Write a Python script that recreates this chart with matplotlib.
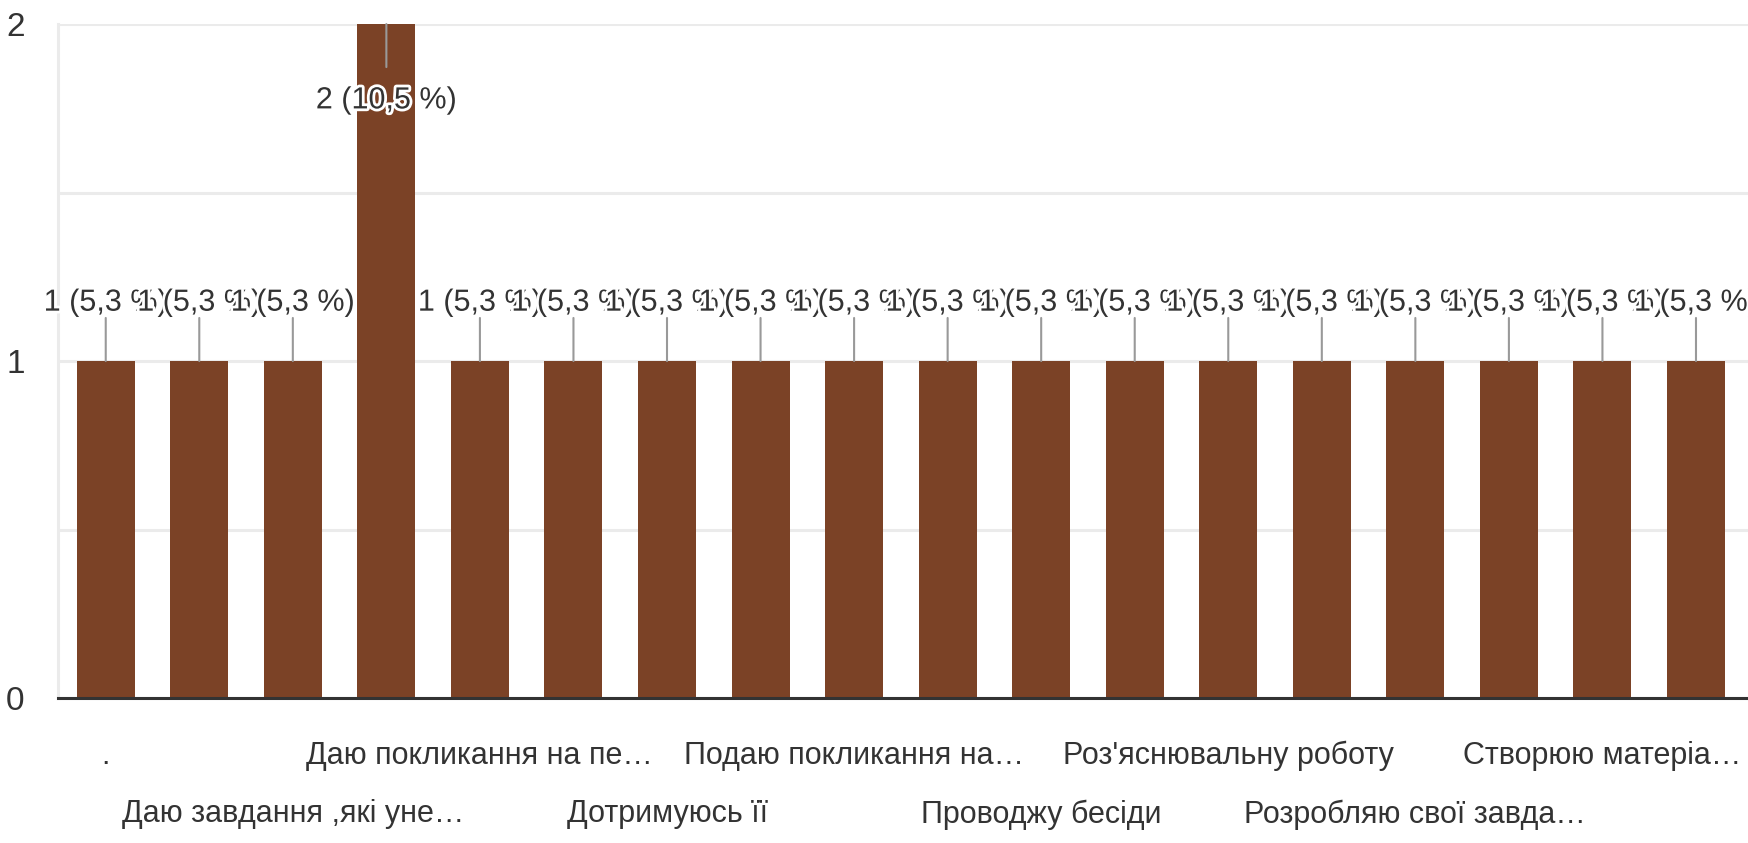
import matplotlib
matplotlib.use("Agg")
import matplotlib.pyplot as plt
import matplotlib.patheffects as pe
from matplotlib import font_manager

# ---- data ----
values = [1, 1, 1, 2, 1, 1, 1, 1, 1, 1, 1, 1, 1, 1, 1, 1, 1, 1]
value_labels = ["1 (5,3 %)"] * 3 + ["2 (10,5 %)"] + ["1 (5,3 %)"] * 14
tick_labels = [".", "", "Даю завдання ,які уне…", "", "Даю покликання на пе…", "",
               "Дотримуюсь її", "", "Подаю покликання на…", "", "Проводжу бесіди", "",
               "Роз'яснювальну роботу", "", "Розробляю свої завда…", "",
               "Створюю матеріа…", ""]
y_ticks = [0, 1, 2]
y_grid = [0.5, 1.5]

# ---- style ----
names = {f.name for f in font_manager.fontManager.ttflist}
fam = ["Liberation Sans Narrow", "Liberation Sans", "DejaVu Sans"]
fam = [f for f in fam if f in names] or ["DejaVu Sans"]
plt.rcParams["font.family"] = fam

bar_color = "#7B4226"
text_color = "#333333"
fs = 22

fig = plt.figure(figsize=(17.48, 8.43), dpi=100)
ax = fig.add_axes([0.0332, 0.172, 0.9668, 0.7995])

x = list(range(len(values)))
ax.bar(x, values, width=0.62, color=bar_color, zorder=2)

ax.set_xlim(-0.51, len(values) - 1 + 0.556)
ax.set_ylim(0, 2)

# grid
ax.set_yticks(y_ticks)
ax.set_yticks(y_grid, minor=True)
ax.grid(axis="y", which="both", color="#ebebeb", linewidth=2.2, zorder=0)
ax.tick_params(axis="y", which="both", length=0, pad=24, labelsize=24, labelcolor=text_color)
ax.set_yticklabels([str(t) for t in y_ticks])

# staggered x labels: first row on major ticks, second row on minor ticks
labeled = [(i, t) for i, t in enumerate(tick_labels) if t]
row1 = labeled[0::2]
row2 = labeled[1::2]
ax.set_xticks([i for i, _ in row1])
ax.set_xticklabels([t for _, t in row1], fontsize=fs, color=text_color)
ax.set_xticks([i for i, _ in row2], minor=True)
ax.set_xticklabels([t for _, t in row2], minor=True, fontsize=fs, color=text_color)
ax.tick_params(axis="x", which="major", length=0, pad=31)
ax.tick_params(axis="x", which="minor", length=0, pad=73)

for s in ["top", "right"]:
    ax.spines[s].set_visible(False)
ax.spines["left"].set_color("#ebebeb")
ax.spines["left"].set_linewidth(2.2)
ax.spines["bottom"].set_color("#333333")
ax.spines["bottom"].set_linewidth(2.2)
ax.spines["bottom"].set_zorder(3)

# value annotations
vmax = max(values)
halo = [pe.withStroke(linewidth=4, foreground="white")]
for i, (v, t) in enumerate(zip(values, value_labels)):
    if v == vmax:
        line_off, text_off = -31, -55
    else:
        line_off, text_off = 31, 42
    ax.annotate("", xy=(i, v), xytext=(0, line_off), textcoords="offset points",
                arrowprops=dict(arrowstyle="-", color="#999999", lw=1.5,
                                shrinkA=0, shrinkB=0), zorder=4)
    ax.annotate(t, xy=(i, v), xytext=(0, text_off), textcoords="offset points",
                ha="center", va="center", fontsize=fs, color=text_color,
                path_effects=halo, zorder=5, annotation_clip=False)

fig.savefig("out.png", dpi=100)
